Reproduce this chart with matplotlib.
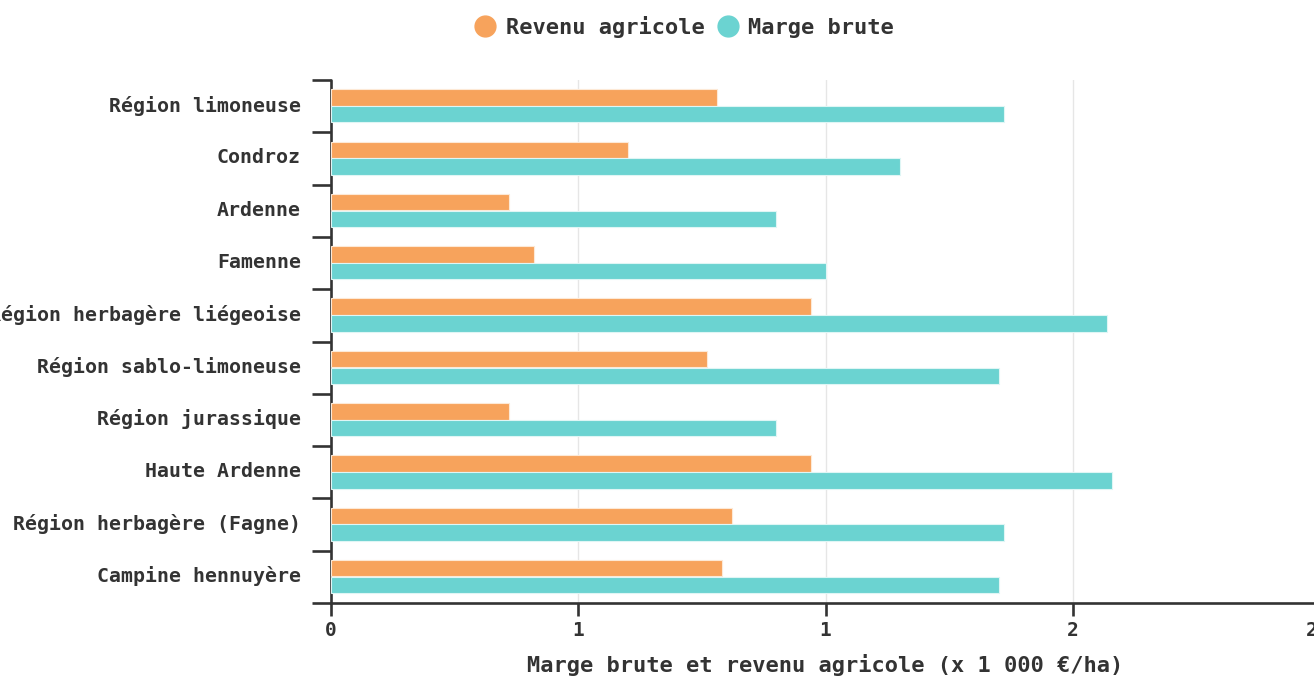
import matplotlib
matplotlib.use("Agg")
import matplotlib.pyplot as plt
import matplotlib.transforms as mtransforms
from matplotlib.lines import Line2D
import numpy as np

categories = ["Région limoneuse", "Condroz", "Ardenne", "Famenne",
              "Région herbagère liégeoise", "Région sablo-limoneuse",
              "Région jurassique", "Haute Ardenne", "Région herbagère (Fagne)",
              "Campine hennuyère"]
revenu = [0.78, 0.60, 0.36, 0.41, 0.97, 0.76, 0.36, 0.97, 0.81, 0.79]
marge = [1.36, 1.15, 0.90, 1.00, 1.57, 1.35, 0.90, 1.58, 1.36, 1.35]
xticks = [0, 0.5, 1, 1.5, 2]
xticklabels = ["0", "1", "1", "2", "2"]
series_names = ["Revenu agricole", "Marge brute"]

C_OR = "#f7a35c"
C_TE = "#6bd3d1"
TXT = "#333333"
FONT = "DejaVu Sans Mono"

plt.rcParams["font.family"] = FONT
plt.rcParams["font.weight"] = "bold"

fig = plt.figure(figsize=(13.14, 6.77), dpi=100)
W, H = 1314, 677
x0, x1 = 331, 1320
ytop, ybot = 80, 603
ax = fig.add_axes([x0 / W, 1 - ybot / H, (x1 - x0) / W, (ybot - ytop) / H])

y = np.arange(len(categories))
bh = 0.315
ax.barh(y - 0.165, revenu, height=bh, color=C_OR, edgecolor="#fde9d6", linewidth=0.8, zorder=3)
ax.barh(y + 0.155, marge, height=bh, color=C_TE, edgecolor="#dff6f5", linewidth=0.8, zorder=3)

ax.set_xlim(0, 2)
ax.set_ylim(len(categories) - 0.5, -0.5)

# grid
for gx in [0.5, 1, 1.5, 2]:
    ax.axvline(gx, color="#e6e6e6", lw=1, zorder=1)

for s in ["top", "right"]:
    ax.spines[s].set_visible(False)
for s in ["left", "bottom"]:
    ax.spines[s].set_color(TXT)
    ax.spines[s].set_linewidth(1.9)
    ax.spines[s].set_capstyle("round")

ax.set_yticks(y)
ax.set_yticklabels(categories, fontsize=14.3, fontweight="bold", color=TXT, family=FONT)
ax.tick_params(axis="y", which="major", length=0, pad=21.6)
ax.set_yticks(np.arange(-0.5, len(categories) + 0.5, 1), minor=True)
ax.tick_params(axis="y", which="minor", length=14, width=1.9, color=TXT)
up = mtransforms.ScaledTranslation(0, 2.5 / 100, fig.dpi_scale_trans)
for lab in ax.get_yticklabels():
    lab.set_transform(lab.get_transform() + up)

ax.set_xticks(xticks)
ax.set_xticklabels(xticklabels, fontsize=14, fontweight="bold", color=TXT, family=FONT)
ax.tick_params(axis="x", which="major", length=9, width=1.9, color=TXT, pad=4)
xlabs = ax.get_xticklabels()
for lab in xlabs:
    lab.set_clip_on(False)
left = mtransforms.ScaledTranslation(-8 / 100, 0, fig.dpi_scale_trans)
xlabs[-1].set_transform(xlabs[-1].get_transform() + left)

ax.set_xlabel("Marge brute et revenu agricole (x 1 000 €/ha)", fontsize=15.8,
              fontweight="bold", color=TXT, labelpad=10, family=FONT)

handles = [Line2D([], [], marker="o", linestyle="none", markersize=15, color=C_OR),
           Line2D([], [], marker="o", linestyle="none", markersize=15, color=C_TE)]
leg = fig.legend(handles, series_names, loc="center", bbox_to_anchor=(684 / W, 1 - 27 / H),
                 ncol=2, frameon=False, handletextpad=0.45, columnspacing=0.55,
                 handlelength=1.0, prop={"family": FONT, "weight": "bold", "size": 15.8})
for t in leg.get_texts():
    t.set_color(TXT)

fig.savefig("out.png", dpi=100)
